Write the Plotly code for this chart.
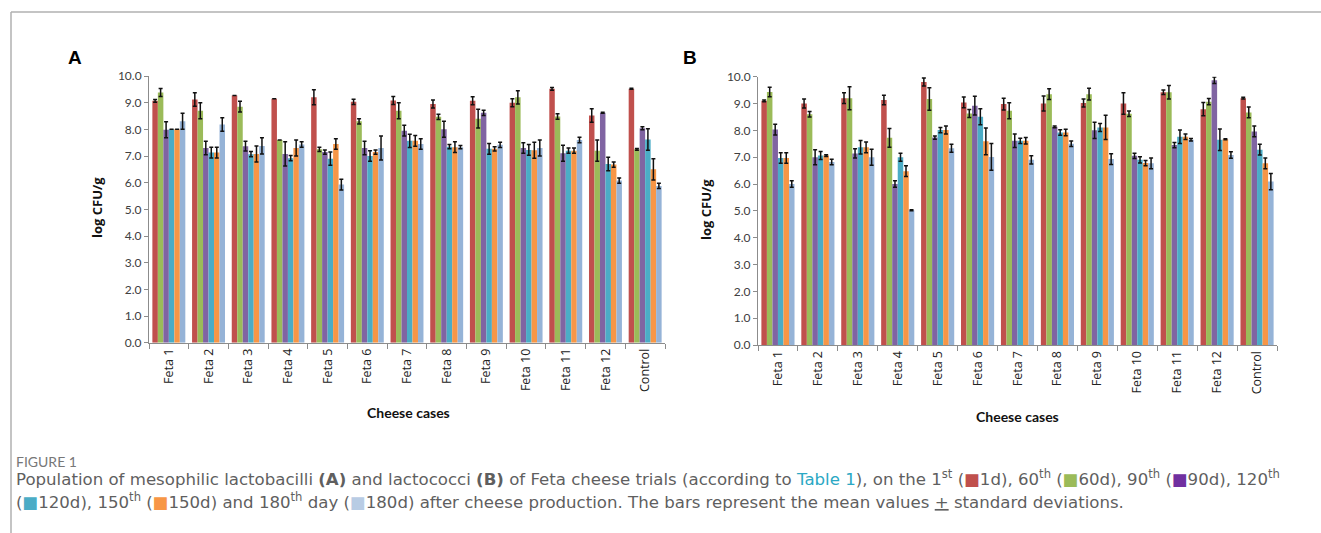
import plotly.graph_objects as go

categories = ["Feta 1", "Feta 2", "Feta 3", "Feta 4", "Feta 5", "Feta 6", "Feta 7",
              "Feta 8", "Feta 9", "Feta 10", "Feta 11", "Feta 12", "Control"]
series_names = ["1d", "60d", "90d", "120d", "150d", "180d"]
colors = ["#C0504D", "#9BBB59", "#8064A2", "#4BACC6", "#F79646", "#95B3D7"]

# Panel A: mesophilic lactobacilli (log CFU/g)
a_1d   = [9.07, 9.12, 9.27, 9.15, 9.20, 9.03, 9.08, 8.95, 9.07, 9.00, 9.52, 8.52, 9.52]
a_60d  = [9.38, 8.70, 8.85, 7.60, 7.25, 8.30, 8.70, 8.47, 8.40, 9.20, 8.48, 7.20, 7.25]
a_90d  = [7.98, 7.30, 7.37, 7.08, 7.15, 7.30, 7.95, 8.00, 8.62, 7.30, 7.10, 8.62, 8.04]
a_120d = [8.00, 7.13, 7.07, 6.92, 6.90, 7.00, 7.57, 7.35, 7.27, 7.23, 7.20, 6.70, 7.62]
a_150d = [8.00, 7.13, 7.08, 7.30, 7.45, 7.15, 7.57, 7.33, 7.27, 7.22, 7.20, 6.68, 6.50]
a_180d = [8.30, 8.18, 7.38, 7.43, 5.93, 7.30, 7.45, 7.33, 7.42, 7.30, 7.60, 6.08, 5.88]
a_1d_sd   = [0.05, 0.25, 0.00, 0.00, 0.28, 0.10, 0.15, 0.15, 0.15, 0.15, 0.05, 0.25, 0.02]
a_60d_sd  = [0.15, 0.30, 0.20, 0.00, 0.08, 0.10, 0.30, 0.10, 0.35, 0.25, 0.10, 0.40, 0.03]
a_90d_sd  = [0.30, 0.25, 0.18, 0.45, 0.08, 0.25, 0.20, 0.30, 0.10, 0.20, 0.30, 0.02, 0.06]
a_120d_sd = [0.00, 0.20, 0.10, 0.10, 0.25, 0.20, 0.25, 0.08, 0.20, 0.20, 0.10, 0.25, 0.40]
a_150d_sd = [0.00, 0.20, 0.30, 0.30, 0.20, 0.08, 0.20, 0.20, 0.08, 0.30, 0.10, 0.10, 0.40]
a_180d_sd = [0.30, 0.25, 0.30, 0.10, 0.20, 0.45, 0.20, 0.06, 0.10, 0.30, 0.10, 0.10, 0.10]

# Panel B: lactococci (log CFU/g)
b_1d   = [9.10, 9.00, 9.20, 9.13, 9.80, 9.04, 8.98, 9.00, 9.02, 9.00, 9.42, 8.79, 9.20]
b_60d  = [9.43, 8.60, 9.20, 7.72, 9.17, 8.63, 8.73, 9.35, 9.35, 8.62, 9.42, 9.07, 8.67]
b_90d  = [8.03, 7.00, 7.14, 6.00, 7.73, 8.92, 7.61, 8.13, 8.00, 7.05, 7.45, 9.87, 7.96]
b_120d = [6.97, 7.06, 7.37, 7.00, 8.01, 8.51, 7.61, 7.92, 8.11, 6.90, 7.76, 7.65, 7.28]
b_150d = [6.97, 7.06, 7.37, 6.48, 8.01, 7.59, 7.61, 7.92, 8.11, 6.78, 7.76, 7.67, 6.77]
b_180d = [6.00, 6.82, 7.00, 5.02, 7.33, 7.01, 6.90, 7.50, 6.93, 6.77, 7.65, 7.08, 6.09]
b_1d_sd   = [0.03, 0.17, 0.20, 0.18, 0.15, 0.20, 0.22, 0.28, 0.15, 0.40, 0.08, 0.25, 0.03]
b_60d_sd  = [0.18, 0.10, 0.43, 0.35, 0.42, 0.15, 0.30, 0.20, 0.22, 0.10, 0.25, 0.12, 0.20]
b_90d_sd  = [0.20, 0.28, 0.17, 0.12, 0.06, 0.35, 0.25, 0.03, 0.30, 0.10, 0.10, 0.12, 0.20]
b_120d_sd = [0.20, 0.15, 0.25, 0.15, 0.10, 0.30, 0.10, 0.10, 0.15, 0.12, 0.25, 0.40, 0.20]
b_150d_sd = [0.20, 0.03, 0.20, 0.20, 0.15, 0.50, 0.12, 0.12, 0.45, 0.10, 0.10, 0.02, 0.20]
b_180d_sd = [0.12, 0.10, 0.30, 0.02, 0.15, 0.50, 0.15, 0.10, 0.20, 0.20, 0.05, 0.12, 0.30]

y_ticks = [0, 1, 2, 3, 4, 5, 6, 7, 8, 9, 10]
y_ticktext = ["0.0", "1.0", "2.0", "3.0", "4.0", "5.0", "6.0", "7.0", "8.0", "9.0", "10.0"]

panel_a = [a_1d, a_60d, a_90d, a_120d, a_150d, a_180d]
panel_a_sd = [a_1d_sd, a_60d_sd, a_90d_sd, a_120d_sd, a_150d_sd, a_180d_sd]
panel_b = [b_1d, b_60d, b_90d, b_120d, b_150d, b_180d]
panel_b_sd = [b_1d_sd, b_60d_sd, b_90d_sd, b_120d_sd, b_150d_sd, b_180d_sd]

W, H = 1321, 533
fig = go.Figure()

for vals, sds, xa, ya in [(panel_a, panel_a_sd, "x", "y"), (panel_b, panel_b_sd, "x2", "y2")]:
    for name, col, v, s in zip(series_names, colors, vals, sds):
        fig.add_trace(go.Bar(
            x=categories, y=v, name=name, marker=dict(color=col, line=dict(width=0)),
            error_y=dict(type="data", array=s, visible=True, color="#111111", thickness=1.5, width=2),
            xaxis=xa, yaxis=ya, showlegend=False,
        ))

def px_x(p):
    return p / W

def px_y(p):
    return 1 - p / H

ytick_font = dict(family="Lato, 'Open Sans', sans-serif", size=12, color="#404040")
xtick_font = dict(family="'Open Sans', Lato, sans-serif", size=12.5, color="#222222")
axis_common = dict(showline=True, linecolor="#8c8c8c", linewidth=1, showgrid=False, zeroline=False,
                   ticks="outside", tickcolor="#8c8c8c", fixedrange=True)

fig.update_layout(
    width=W, height=H, margin=dict(l=0, r=0, t=0, b=0, autoexpand=False),
    paper_bgcolor="white", plot_bgcolor="white",
    barmode="group", bargap=0.17, bargroupgap=0.0,
    xaxis=dict(domain=[px_x(149), px_x(665)], anchor="y", tickangle=-90, tickson="boundaries",
               ticklen=5, tickfont=xtick_font, **axis_common),
    yaxis=dict(domain=[px_y(342.7), px_y(76)], anchor="x", range=[0, 10], tickvals=y_ticks,
               ticktext=y_ticktext, ticklen=4, tickfont=ytick_font, **axis_common),
    xaxis2=dict(domain=[px_x(758), px_x(1277)], anchor="y2", tickangle=-90, tickson="boundaries",
                ticklen=5, tickfont=xtick_font, **axis_common),
    yaxis2=dict(domain=[px_y(345), px_y(76.7)], anchor="x2", range=[0, 10], tickvals=y_ticks,
                ticktext=y_ticktext, ticklen=4, tickfont=ytick_font, **axis_common),
)

def note(text, x, y, font, xanchor="center", yanchor="middle", angle=0):
    return dict(text=text, x=px_x(x), y=px_y(y), xref="paper", yref="paper", xanchor=xanchor,
                yanchor=yanchor, textangle=angle, showarrow=False, font=font)

label_font = dict(family="Liberation Sans, Arial, sans-serif", size=19, color="#000000")
ytitle_font = dict(family="'Open Sans', Lato, sans-serif", size=13, color="#111111")
xtitle_font = dict(family="Lato, 'Open Sans', sans-serif", size=14, color="#111111")
cap_font = dict(family="'DejaVu Sans', sans-serif", size=16.6, color="#5f5f5f")

ann = [
    note("<b>A</b>", 75, 58, label_font),
    note("<b>B</b>", 690, 58, label_font),
    note("<b>log CFU/g</b>", 97, 207, ytitle_font, angle=-90),
    note("<b>log CFU/g</b>", 706, 210, ytitle_font, angle=-90),
    note("<b>Cheese cases</b>", 408, 412, xtitle_font),
    note("<b>Cheese cases</b>", 1017, 416, xtitle_font),
    note("FIGURE 1", 14, 461, dict(family="Lato, sans-serif", size=14, color="#777777"), xanchor="left"),
]

def sq(c):
    return f"<span style='color:{c}'>■</span>"

line1 = ("Population of mesophilic lactobacilli <b>(A)</b> and lactococci <b>(B)</b> of Feta cheese trials "
         "(according to <span style='color:#2AA8C4'>Table 1</span>), on the 1<sup>st</sup> (" + sq("#C0504D") +
         "1d), 60<sup>th</sup> (" + sq("#9BBB59") + "60d), 90<sup>th</sup> (" + sq("#7030A0") +
         "90d), 120<sup>th</sup>")
line2 = ("(" + sq("#4BACC6") + "120d), 150<sup>th</sup> (" + sq("#F79646") + "150d) and 180<sup>th</sup> day (" +
         sq("#B8CCE4") + "180d) after cheese production. The bars represent the mean values <u>+</u> standard deviations.")
ann.append(note(line1, 14, 478, cap_font, xanchor="left"))
ann.append(note(line2, 14, 501, cap_font, xanchor="left"))
fig.update_layout(annotations=ann)

fig.add_shape(type="line", xref="paper", yref="paper", x0=px_x(11), x1=1, y0=px_y(12), y1=px_y(12),
              line=dict(color="#b0b0b0", width=1.5))
fig.add_shape(type="line", xref="paper", yref="paper", x0=px_x(11), x1=px_x(11), y0=px_y(12), y1=0,
              line=dict(color="#b0b0b0", width=1.5))

fig.write_html("out.html")
